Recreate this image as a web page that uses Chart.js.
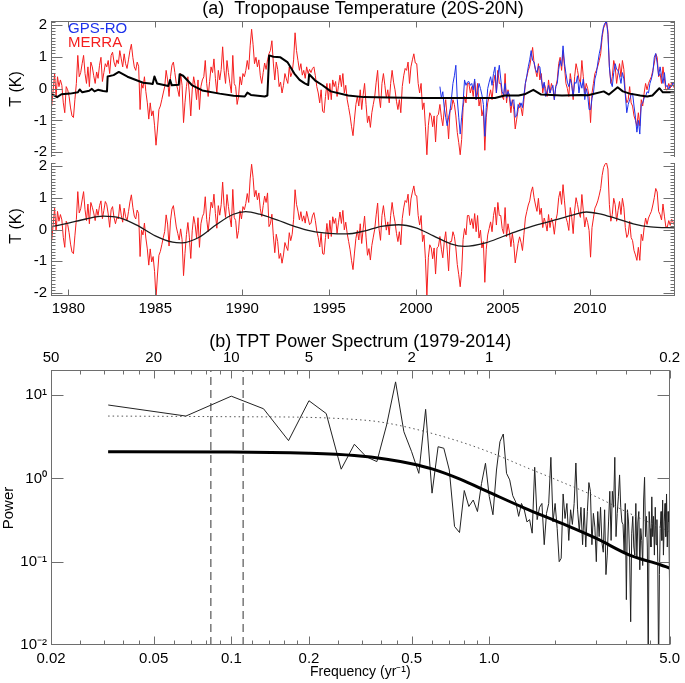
<!DOCTYPE html>
<html>
<head>
<meta charset="utf-8">
<script src="https://cdn.jsdelivr.net/npm/chart.js@4.4.1/dist/chart.umd.min.js"></script>
<style>
  html, body { margin: 0; padding: 0; background: #fff; }
  #wrap { position: relative; width: 685px; height: 683px; overflow: hidden; }
  canvas { position: absolute; left: 0; }
  #err { position: absolute; left: 60px; top: 100px; color: #c00; font: 12px monospace; }
</style>
</head>
<body>
<div id="wrap">
  <canvas id="cTop" width="685" height="170" style="top:0px"></canvas>
  <canvas id="cBot" width="685" height="170" style="top:150px"></canvas>
  <canvas id="cSpec" width="685" height="363" style="top:320px"></canvas>
  <div id="err"></div>
</div>
<script>
// ---- panel (a): monthly tropopause temperature anomalies, Jan 1979 - Dec 2014 ----
const merraTop = [
  -0.55, -0.04, 0.47, -0.25, 0.37, 0.06, 0.27, 0.10, -0.45, -0.76, 0.06, -0.04,
  -0.25, -0.61, -0.86, -0.91, -0.35, 0.16, 1.04, 0.37, 0.50, 0.78, 1.04, 0.47,
  0.16, 0.68, 0.06, 0.83, 0.68, 0.40, 0.16, 0.52, 0.32, 0.73, 0.98, 0.22,
  0.50, 0.78, 0.68, 0.88, 0.47, 1.04, 1.14, 0.83, 0.68, 0.90, 0.78, 1.19,
  0.93, 0.68, 1.09, 0.78, 0.63, 0.90, 1.19, 1.39, 0.98, 0.68, 0.57, 0.83,
  0.70, -0.66, 0.16, 0.01, 0.37, -0.10, -0.45, -0.96, -0.45, -0.86, -0.70, -1.17,
  -1.78, -1.27, -0.66, -0.55, -0.35, -0.14, 0.06, 0.57, 0.27, -0.25, 0.37, 0.73,
  0.83, 0.50, 0.16, -0.04, -0.25, 0.47, 0.10, -1.07, -0.45, 0.06, 0.37, -0.14,
  -0.86, -0.04, 0.37, 0.10, -0.35, 0.27, -0.66, 0.06, 0.27, 0.37, 0.88, 0.16,
  -0.25, 0.22, 0.68, 0.50, 0.93, 0.32, -0.14, 0.57, 0.27, 0.60, 1.31, 0.57,
  0.16, 0.88, 0.50, 0.16, -0.14, 1.04, 0.16, 0.06, -0.50, -0.25, 0.37, 0.11,
  0.47, 0.37, 0.57, 0.88, 0.60, 1.34, 1.86, 1.39, 0.78, 0.98, 0.68, 0.90,
  0.40, 0.16, 0.50, 0.80, 0.60, 0.90, 1.09, 1.20, 1.50, 0.80, 0.27, 0.83,
  0.60, 0.06, 0.20, -0.14, 0.10, 0.47, 0.30, 0.16, 0.68, 0.37, 0.50, 0.90,
  1.75, 1.19, 0.88, 0.57, 0.78, 0.42, 0.57, 0.32, 0.68, 0.47, 0.60, 0.50,
  0.63, 0.68, 0.40, 0.06, -0.14, -0.45, -0.04, -0.71, -0.76, -0.25, 0.16, -0.35,
  0.16, -0.35, 0.27, 0.06, 0.22, -0.25, 0.10, 0.42, 0.06, 0.47, -0.14, 0.10,
  -0.35, -0.60, -0.86, -1.20, -1.48, -0.96, -0.50, -0.25, -0.55, -0.04, -0.66, -0.20,
  0.16, -0.50, -1.07, -0.86, -1.22, -0.76, -0.50, -0.25, 0.20, 0.57, -0.25, -0.60,
  0.16, 0.47, 0.10, -0.30, -0.04, -0.45, 0.16, 0.57, 0.20, -0.04, -0.40, -0.66,
  -0.35, -0.76, 0.06, 0.40, 0.63, 0.57, 0.83, 0.16, 0.68, 0.90, 1.09, 0.80,
  0.78, 0.16, -0.14, 0.16, -0.66, -0.45, -1.20, -2.08, -1.17, -0.76, -0.86, -1.20,
  -0.86, -1.68, -0.86, -0.81, -0.50, -0.90, -1.17, -0.66, -0.35, -0.90, -1.58, -0.66,
  -0.66, -0.35, -0.50, -0.86, -1.38, -1.70, -2.08, -1.60, -0.60, -0.25, -0.45, 0.16,
  0.16, -0.14, 0.06, -0.25, 0.22, -0.35, 0.16, -0.55, -0.30, -0.86, -0.66, -1.94,
  -0.90, -0.45, -0.25, -0.04, -0.35, 0.16, 0.42, -0.14, 0.57, 0.16, 0.16, -0.25,
  -0.35, 0.47, -0.45, -0.04, -0.30, -0.76, -0.35, -0.66, -1.27, -0.96, -0.66, -0.45,
  -0.60, -0.86, -0.35, 0.16, 0.37, 0.57, 0.70, 0.98, 1.29, 0.80, 0.57, 0.37,
  0.78, 0.27, 0.47, -0.14, 0.16, 0.00, -0.25, 0.27, -0.14, 0.16, 0.00, -0.35,
  0.06, 0.27, 0.78, 0.98, 0.57, 1.19, 0.68, 0.16, 0.00, -0.25, 0.47, 0.16,
  -0.35, 0.37, 0.78, 0.57, 0.30, 0.16, 0.88, 0.37, -0.14, 0.16, 0.00, -0.25,
  -1.07, -0.14, 0.16, 0.47, 0.57, 0.70, 0.88, 1.09, 1.60, 1.90, 2.00, 2.10,
  1.80, 0.68, 0.16, 0.37, 0.88, 0.68, 0.16, 0.50, 0.78, 0.37, 0.88, 0.60,
  -0.14, -0.45, -0.35, 0.06, -0.45, -0.55, -0.86, -1.00, -1.17, -0.76, -1.17, -0.35,
  -0.55, -0.14, 0.16, -0.04, 0.16, 0.27, 0.37, 0.57, 0.80, 1.09, 0.98, 0.37,
  0.47, 0.16, 0.68, 0.30, -0.04, -0.04, 0.16, 0.01, 0.20, 0.11, 0.00, 0.10
];

// GPS-RO starts May 2001
const gpsStart = 2001 + 4 / 12;
const gpsVals = [
  0.06, -0.30, -0.10, -0.60, -0.90, -1.17, -0.90, -0.70,
  -0.30, 0.16, 0.40, 0.73, -0.35, -0.90, -1.43, -0.90, -0.45, 0.27, 0.10, 0.20,
  0.22, 0.10, 0.16, -0.04, 0.30, -0.35, -0.14, 0.16, 0.00, -0.20, -0.50, -1.50,
  -0.60, 0.00, 0.20, 0.37, 0.10, 0.47, 0.68, -0.14, 0.40, 0.73, 0.30, -0.10,
  -0.20, 0.16, -0.30, -0.09, -0.20, -0.55, -0.40, -0.35, -0.90, -0.86, -0.50, -0.60,
  -0.45, -0.60, -0.20, 0.16, 0.40, 0.68, 0.90, 1.19, 0.88, 0.83, 0.60, 0.50,
  0.70, 0.68, 0.30, 0.01, 0.20, -0.25, -0.10, 0.10, -0.14, 0.00, 0.10, -0.35,
  0.06, 0.16, 0.60, 0.88, 0.70, 1.34, 0.80, 0.47, 0.20, 0.06, 0.30, 0.10,
  -0.25, 0.20, 0.16, 0.40, -0.14, 0.20, 0.01, 0.30, -0.35, 0.00, -0.20, -0.66,
  -0.66, -0.30, -0.14, 0.30, 0.47, 0.80, 1.09, 1.30, 1.70, 1.95, 2.06, 2.10,
  1.70, 0.68, 0.20, 0.06, 0.50, 0.78, 0.60, 0.57, 0.40, 0.16, 0.50, 0.30,
  -0.20, -0.76, -0.50, -0.35, -0.20, -0.14, -0.55, -0.90, -1.37, -1.00, -1.43, -0.50,
  -0.45, -0.30, -0.25, -0.10, -0.14, 0.16, 0.30, 0.50, 0.98, 1.10, 0.80, 0.40,
  0.68, 0.40, 0.16, 0.50, 0.06, 0.10, -0.04, 0.10, 0.06, 0.20, 0.10, 0.06
];

// thick black line in the upper plot (breakpoints)
const blackYears = [
  1979.00, 1979.20, 1979.35, 1979.60, 1980.10, 1980.55, 1980.65, 1980.80, 1981.20, 1981.35,
  1981.50, 1981.70, 1982.00, 1982.22, 1982.26, 1982.60, 1982.90, 1983.40, 1984.30, 1984.70,
  1984.85, 1984.95, 1985.10, 1985.75, 1985.85, 1985.95, 1986.35, 1986.40, 1986.60, 1987.10,
  1987.70, 1988.70, 1989.50, 1990.15, 1990.30, 1990.50, 1991.30, 1991.45, 1991.55, 1991.80,
  1992.20, 1992.60, 1993.00, 1993.30, 1993.60, 1993.80, 1993.85, 1994.20, 1994.60, 1995.10,
  1996.10, 1997.00, 1998.40, 2000.30, 2002.20, 2004.55, 2005.10, 2005.90, 2006.30, 2006.75,
  2007.20, 2008.40, 2009.50, 2009.90, 2010.80, 2011.10, 2011.60, 2011.90, 2012.30, 2012.90,
  2013.30, 2013.60, 2014.00, 2014.20, 2014.90
];
const blackVals = [
  -0.19, -0.22, -0.27, -0.18, -0.16, -0.12, -0.03, -0.12, -0.07, -0.01,
  -0.09, -0.04, -0.08, -0.09, 0.38, 0.42, 0.52, 0.37, 0.18, 0.16,
  0.14, 0.38, 0.16, 0.08, 0.27, 0.10, 0.12, 0.45, 0.40, 0.11,
  -0.06, -0.16, -0.23, -0.25, -0.13, -0.20, -0.25, -0.22, 1.04, 1.00,
  0.98, 0.83, 0.47, 0.27, 0.16, 0.11, 0.45, 0.25, 0.11, -0.09,
  -0.22, -0.27, -0.28, -0.30, -0.30, -0.30, -0.22, -0.22, -0.17, -0.04,
  -0.19, -0.22, -0.20, -0.21, -0.09, -0.19, 0.04, -0.09, -0.16, -0.22,
  -0.25, -0.22, 0.01, -0.12, -0.12
];

// lower plot: MERRA residual and smooth fit
const merraBot = [
  -0.35, 0.16, 0.67, -0.05, 0.57, 0.26, 0.47, 0.30, -0.25, -0.56, 0.26, 0.16,
  -0.10, -0.46, -0.71, -0.76, -0.20, 0.31, 1.19, 0.52, 0.65, 0.93, 1.19, 0.62,
  0.28, 0.80, 0.18, 0.85, 0.70, 0.52, 0.28, 0.64, 0.44, 0.75, 0.90, 0.34,
  0.60, 0.88, 0.78, 0.49, 0.07, 0.62, 0.72, 0.38, 0.18, 0.38, 0.33, 0.79,
  0.45, 0.23, 0.67, 0.40, 0.27, 0.56, 0.87, 1.09, 0.70, 0.42, 0.33, 0.61,
  0.50, -0.85, -0.02, -0.17, 0.20, -0.27, -0.61, -1.12, -0.61, -1.02, -0.85, -1.32,
  -2.17, -1.43, -0.81, -0.69, -0.48, -0.26, -0.06, 0.46, 0.17, -0.52, 0.27, 0.64,
  0.75, 0.42, 0.08, -0.12, -0.33, 0.02, -0.32, -1.45, -0.75, -0.16, 0.22, -0.24,
  -0.91, -0.04, 0.41, 0.16, -0.27, 0.37, -0.56, 0.18, 0.40, 0.51, 1.03, 0.31,
  -0.07, 0.40, 0.86, 0.68, 1.11, 0.50, 0.04, 0.75, 0.45, 0.78, 1.49, 0.75,
  0.38, 1.10, 0.72, 0.38, 0.08, 1.26, 0.38, 0.28, -0.28, -0.03, 0.59, 0.33,
  0.72, 0.62, 0.82, 1.13, 0.85, 1.59, 2.05, 1.64, 1.03, 1.23, 0.93, 1.15,
  0.65, 0.41, 0.75, 1.05, 0.85, 1.15, 0.09, 0.18, 0.48, -0.20, -0.73, -0.15,
  -0.38, -0.91, -0.75, -1.06, -0.80, -0.41, -0.55, -0.66, -0.10, -0.35, -0.15, 0.32,
  1.25, 0.79, 0.58, 0.30, 0.56, 0.26, 0.43, 0.20, 0.57, 0.36, 0.15, 0.20,
  0.43, 0.53, 0.28, -0.05, -0.25, -0.55, -0.12, -0.76, -0.78, -0.25, 0.19, -0.29,
  0.29, -0.22, 0.40, 0.19, 0.35, -0.12, 0.23, 0.55, 0.19, 0.60, -0.01, 0.23,
  -0.13, -0.38, -0.64, -0.98, -1.26, -0.74, -0.28, -0.03, -0.33, 0.18, -0.44, 0.02,
  0.42, -0.24, -0.81, -0.60, -0.96, -0.50, -0.24, 0.01, 0.46, 0.83, 0.01, -0.34,
  0.44, 0.75, 0.38, -0.02, 0.24, -0.17, 0.44, 0.85, 0.48, 0.24, -0.12, -0.38,
  -0.07, -0.48, 0.34, 0.68, 0.91, 0.85, 1.11, 0.44, 0.96, 1.18, 1.37, 1.08,
  1.06, 0.44, 0.14, 0.44, -0.38, -0.17, -0.92, -2.10, -0.89, -0.48, -0.58, -0.92,
  -0.58, -1.40, -0.58, -0.53, -0.22, -0.62, -0.89, -0.38, -0.07, -0.62, -1.30, -0.38,
  -0.38, -0.07, -0.22, -0.58, -1.10, -1.42, -1.80, -1.32, -0.32, 0.03, -0.17, 0.44,
  0.44, 0.14, 0.34, 0.03, 0.50, -0.07, 0.44, -0.27, -0.02, -0.58, -0.38, -1.66,
  -0.62, -0.17, 0.03, 0.24, -0.07, 0.44, 0.70, 0.14, 0.85, 0.44, 0.44, 0.03,
  -0.13, 0.69, -0.23, 0.18, -0.08, -0.54, -0.13, -0.44, -1.05, -0.74, -0.44, -0.23,
  -0.40, -0.66, -0.15, 0.36, 0.57, 0.77, 0.90, 1.18, 1.34, 1.00, 0.77, 0.57,
  0.98, 0.47, 0.67, 0.06, 0.36, 0.20, -0.05, 0.47, 0.06, 0.36, 0.20, -0.15,
  0.28, 0.49, 1.00, 1.20, 0.79, 1.41, 0.90, 0.38, 0.22, -0.03, 0.69, 0.38,
  -0.13, 0.59, 1.00, 0.79, 0.52, 0.38, 1.10, 0.59, 0.08, 0.38, 0.22, -0.03,
  -0.87, 0.06, 0.36, 0.67, 0.77, 0.90, 1.08, 1.29, 1.70, 1.95, 2.05, 2.10,
  1.90, 0.78, 0.26, 0.47, 0.98, 0.78, 0.26, 0.60, 0.88, 0.47, 0.98, 0.70,
  0.06, -0.25, -0.15, 0.26, -0.25, -0.35, -0.66, -0.80, -0.97, -0.56, -0.97, -0.15,
  -0.35, 0.06, 0.36, 0.16, 0.36, 0.47, 0.57, 0.77, 1.00, 1.29, 1.18, 0.57,
  0.47, 0.30, 0.80, 0.42, 0.08, 0.08, 0.28, 0.13, 0.32, 0.23, 0.12, 0.22
];
const fitYears = [
  1979.0, 1980.0, 1981.0, 1982.0, 1983.0, 1984.0, 1985.0, 1986.0, 1986.5, 1987.5,
  1988.5, 1989.5, 1990.2, 1991.0, 1992.0, 1993.0, 1994.0, 1995.0, 1996.0, 1997.0,
  1998.0, 1999.0, 2000.0, 2001.0, 2002.0, 2002.8, 2004.0, 2005.0, 2006.0, 2007.0,
  2008.0, 2009.0, 2009.8, 2010.5, 2011.5, 2012.5, 2013.5, 2014.9
];
const fitVals = [
  0.08, 0.20, 0.33, 0.42, 0.36, 0.12, -0.20, -0.40, -0.42, -0.25,
  0.15, 0.48, 0.56, 0.48, 0.30, 0.10, -0.05, -0.12, -0.14, -0.05,
  0.10, 0.15, 0.05, -0.20, -0.45, -0.53, -0.42, -0.22, -0.02, 0.15,
  0.30, 0.45, 0.55, 0.50, 0.35, 0.18, 0.08, 0.05
];

const yearTicks = [1980, 1985, 1990, 1995, 2000, 2005, 2010];
const tempTicks = [-2, -1, 0, 1, 2];

// ---- panel (b): power spectrum at frequencies k/30 yr^-1, k = 1..150 ----
const specPower = [
  7.6, 5.6, 9.7, 6.85, 2.84, 8.55, 6.0, 1.29, 2.57, 1.82,
  1.59, 4.37, 14.4, 3.63, 2.09, 1.15, 6.74, 0.665, 2.4, 2.3,
  1.26, 0.265, 0.224, 0.715, 0.46, 0.55, 0.40, 0.87, 1.52, 0.605,
  0.366, 1.26, 2.76, 3.41, 1.15, 0.96, 0.62, 0.52, 0.35, 0.50,
  0.42, 0.30, 0.32, 0.22, 1.36, 0.32, 0.45, 0.50, 0.16, 0.38,
  0.50, 1.79, 0.30, 0.50, 0.25, 0.10, 0.11, 0.65, 0.33, 0.50,
  0.18, 0.42, 0.28, 0.50, 1.53, 0.42, 0.23, 0.45, 0.16, 0.44,
  0.15, 0.40, 0.89, 0.70, 0.16, 0.38, 0.26, 0.10, 0.40, 0.20,
  0.45, 0.17, 0.13, 0.42, 0.07, 0.12, 0.30, 0.70, 0.18, 0.70,
  0.45, 1.79, 0.20, 0.38, 0.60, 1.10, 0.45, 0.30, 0.28, 0.13,
  0.50, 0.035, 0.42, 0.30, 0.12, 0.019, 0.22, 0.35, 0.15, 0.12,
  0.50, 0.11, 0.30, 0.40, 0.08, 0.25, 0.18, 0.09, 0.55, 1.03,
  0.20, 0.35, 0.15, 0.006, 0.40, 0.25, 0.15, 0.60, 0.20, 0.35,
  0.12, 0.45, 0.16, 0.32, 0.10, 0.005, 0.07, 0.25, 0.40, 0.18,
  0.55, 0.12, 0.30, 0.50, 0.20, 0.65, 0.15, 0.40, 0.30, 0.05
];
const redFreq = [0.0333, 0.1, 0.2, 0.3, 0.4, 0.5, 0.6, 0.77, 1.0, 1.37, 1.9, 2.6, 3.5, 4.6, 5.0];
const redPower = [2.09, 2.08, 2.0, 1.88, 1.7, 1.5, 1.3, 0.98, 0.68, 0.44, 0.29, 0.19, 0.12, 0.092, 0.084];
const sigFreq = [0.0333, 0.1, 0.2, 0.3, 0.37, 0.5, 0.77, 1.03, 1.37, 1.9, 2.6, 3.5, 5.0];
const sigPower = [5.6, 5.5, 5.4, 5.1, 4.8, 4.0, 2.76, 2.0, 1.38, 0.91, 0.6, 0.38, 0.23];
const markPeriods = [12, 9];

const freqTicks = [0.02, 0.05, 0.1, 0.2, 0.5, 1, 5];
const freqLabels = ['0.02', '0.05', '0.1', '0.2', '0.5', '1.0', '5.0'];
const periodLabels = ['50', '20', '10', '5', '2', '1', '0.2'];
const freqMinor = [0.026, 0.032, 0.038, 0.044, 0.06, 0.07, 0.08, 0.09, 0.12, 0.14, 0.16, 0.18,
  0.26, 0.32, 0.38, 0.44, 0.6, 0.7, 0.8, 0.9, 1.8, 2.6, 3.4, 4.2];
const powTicks = [0.01, 0.1, 1, 10];
const powLabels = ['10\u207B\u00B2', '10\u207B\u00B9', '10\u2070', '10\u00B9'];

// ---- drawing ----
const FONT = "'Liberation Sans', Arial, Helvetica, sans-serif";
const AXIS = '#6e6e6e';
const RED = 'rgb(245,30,30)';
const BLUE = 'rgb(30,50,235)';

const monthly = (start, vals) => vals.map((v, i) => ({ x: start + (i + 0.5) / 12, y: v }));
const pairs = (xs, ys) => xs.map((x, i) => ({ x, y: ys[i] }));

const tempMinor = [];
for (let v = -21; v <= 21; v++) tempMinor.push(v / 10);

function axisBox(cfg) {
  return {
    id: 'axisBox',
    afterDraw(chart) {
      try {
        const ctx = chart.ctx;
        const a = chart.chartArea;
        const xs = chart.scales.x, ys = chart.scales.y;
        const L = Math.round(a.left) + 0.5, R = Math.round(a.right) - 0.5;
        const T = Math.round(a.top) + 0.5, B = Math.round(a.bottom) - 0.5;
        ctx.save();
        ctx.strokeStyle = AXIS;
        ctx.lineWidth = 1;
        ctx.setLineDash([]);
        ctx.beginPath();
        if (cfg.top) { ctx.moveTo(L, T); ctx.lineTo(R, T); }
        if (cfg.bottom) { ctx.moveTo(L, B); ctx.lineTo(R, B); }
        ctx.moveTo(L, a.top); ctx.lineTo(L, a.bottom);
        ctx.moveTo(R, a.top); ctx.lineTo(R, a.bottom);
        for (const tk of cfg.yTicks) {
          for (const v of tk.vals) {
            const p = Math.round(ys.getPixelForValue(v)) + 0.5;
            if (p < a.top || p > a.bottom) continue;
            ctx.moveTo(L, p); ctx.lineTo(L + tk.len, p);
            ctx.moveTo(R, p); ctx.lineTo(R - tk.len, p);
          }
        }
        for (const tk of cfg.xTicks) {
          for (const v of tk.vals) {
            const p = Math.round(xs.getPixelForValue(v)) + 0.5;
            if (cfg.top) { ctx.moveTo(p, T); ctx.lineTo(p, T + tk.len); }
            if (cfg.bottom) { ctx.moveTo(p, B); ctx.lineTo(p, B - tk.len); }
          }
        }
        ctx.stroke();
        ctx.restore();
      } catch (e) {
        document.getElementById('err').textContent += ' ' + e.message;
      }
    }
  };
}

function texts(items) {
  return {
    id: 'texts',
    afterDraw(chart) {
      const { ctx, chartArea: a } = chart;
      items.forEach(t => {
        ctx.save();
        ctx.font = t.font;
        ctx.fillStyle = t.color || '#000';
        ctx.textAlign = t.align || 'center';
        ctx.textBaseline = 'middle';
        ctx.translate(t.x === 'mid' ? (a.left + a.right) / 2 : t.x, t.y);
        if (t.rot) ctx.rotate(t.rot);
        ctx.fillText(t.text, 0, 0);
        ctx.restore();
      });
    }
  };
}

const tickFont = { family: FONT, size: 15 };
const noGrid = { display: false, drawTicks: false, tickLength: 0 };

function tempAxis(min, max) {
  return {
    type: 'linear', min, max,
    grid: noGrid, border: { display: false },
    afterBuildTicks: s => { s.ticks = tempTicks.map(v => ({ value: v })); },
    afterFit: s => { s.width = 51; },
    ticks: { font: tickFont, color: '#000', padding: 4, callback: v => String(v) }
  };
}

const base = {
  responsive: false, animation: false, devicePixelRatio: 1, events: [],
  elements: { point: { radius: 0 }, line: { tension: 0, borderJoinStyle: 'round', fill: false } },
  plugins: { legend: { display: false }, tooltip: { enabled: false }, title: { display: false } }
};

new Chart(document.getElementById('cTop'), {
  type: 'line',
  data: {
    datasets: [
      { data: pairs(blackYears, blackVals), borderColor: '#000', borderWidth: 2 },
      { data: monthly(gpsStart, gpsVals), borderColor: BLUE, borderWidth: 1 },
      { data: monthly(1979, merraTop), borderColor: RED, borderWidth: 1 }
    ]
  },
  options: {
    ...base,
    layout: { padding: { top: 21, right: 10, bottom: 10, left: 0 } },
    scales: {
      x: { type: 'linear', display: false, min: 1979, max: 2014.9 },
      y: tempAxis(-2.15, 2.12)
    }
  },
  plugins: [
    axisBox({ top: true, bottom: false, yTicks: [{ vals: tempMinor, len: 4 }, { vals: tempTicks, len: 11 }], xTicks: [{ vals: yearTicks, len: 6 }] }),
    texts([
      { text: '(a)  Tropopause Temperature (20S-20N)', x: 'mid', y: 9, font: '18px ' + FONT },
      { text: 'T (K)', x: 17, y: 89, rot: -Math.PI / 2, font: '16px ' + FONT },
      { text: 'GPS-RO', x: 68, y: 29, align: 'left', color: BLUE, font: '15px ' + FONT },
      { text: 'MERRA', x: 68, y: 43, align: 'left', color: RED, font: '15px ' + FONT }
    ])
  ]
});

new Chart(document.getElementById('cBot'), {
  type: 'line',
  data: {
    datasets: [
      { data: pairs(fitYears, fitVals), borderColor: '#1a1a1a', borderWidth: 1.3, cubicInterpolationMode: 'monotone' },
      { data: monthly(1979, merraBot), borderColor: RED, borderWidth: 1 }
    ]
  },
  options: {
    ...base,
    layout: { padding: { top: 10, right: 10, bottom: 0, left: 0 } },
    scales: {
      x: {
        type: 'linear', min: 1979, max: 2014.9,
        grid: noGrid, border: { display: false },
        afterBuildTicks: s => { s.ticks = yearTicks.map(v => ({ value: v })); },
        afterFit: s => { s.height = 24; },
        ticks: { font: tickFont, color: '#000', padding: 4, maxRotation: 0, autoSkip: false, callback: v => String(v) }
      },
      y: tempAxis(-2.09, 2.09)
    }
  },
  plugins: [
    axisBox({ top: false, bottom: true, yTicks: [{ vals: tempMinor, len: 4 }, { vals: tempTicks, len: 11 }], xTicks: [{ vals: yearTicks, len: 6 }] }),
    texts([
      { text: 'T (K)', x: 17, y: 76, rot: -Math.PI / 2, font: '16px ' + FONT }
    ])
  ]
});

function freqAxis(position, labels, height, padding) {
  return {
    type: 'logarithmic', position, min: 0.02, max: 5,
    grid: noGrid, border: { display: false },
    afterBuildTicks: s => { s.ticks = freqTicks.map(v => ({ value: v })); },
    afterFit: s => { s.height = height; },
    ticks: { font: tickFont, color: '#000', padding, maxRotation: 0, autoSkip: false, callback: (v, i) => labels[i] }
  };
}

new Chart(document.getElementById('cSpec'), {
  type: 'line',
  data: {
    datasets: [
      { data: pairs(redFreq, redPower), borderColor: '#000', borderWidth: 3, cubicInterpolationMode: 'monotone' },
      { data: pairs(sigFreq, sigPower), borderColor: '#555', borderWidth: 1, borderDash: [1.5, 3], cubicInterpolationMode: 'monotone' },
      { data: specPower.map((p, i) => ({ x: (i + 1) / 30, y: p })), borderColor: '#222', borderWidth: 1 },
      ...markPeriods.map(p => ({
        data: [{ x: 1 / p, y: 0.01 }, { x: 1 / p, y: 20 }],
        borderColor: '#333', borderWidth: 1, borderDash: [8, 5]
      }))
    ]
  },
  options: {
    ...base,
    layout: { padding: { top: 0, right: 10, bottom: 0, left: 0 } },
    scales: {
      x: freqAxis('bottom', freqLabels, 38, 5),
      x2: freqAxis('top', periodLabels, 50, 3),
      y: {
        type: 'logarithmic', min: 0.01, max: 20,
        grid: noGrid, border: { display: false },
        afterBuildTicks: s => { s.ticks = powTicks.map(v => ({ value: v })); },
        afterFit: s => { s.width = 51; },
        ticks: { font: tickFont, color: '#000', padding: 4, callback: (v, i) => powLabels[i] }
      }
    }
  },
  plugins: [
    axisBox({ top: true, bottom: true, yTicks: [{ vals: powTicks, len: 12 }], xTicks: [{ vals: freqMinor, len: 4 }, { vals: freqTicks, len: 8 }] }),
    texts([
      { text: '(b) TPT Power Spectrum (1979-2014)', x: 'mid', y: 22, font: '18px ' + FONT },
      { text: 'Power', x: 9, y: 188, rot: -Math.PI / 2, font: '15px ' + FONT },
      { text: 'Frequency (yr\u207B\u00B9)', x: 'mid', y: 352, font: '14px ' + FONT }
    ])
  ]
});
</script>
</body>
</html>
